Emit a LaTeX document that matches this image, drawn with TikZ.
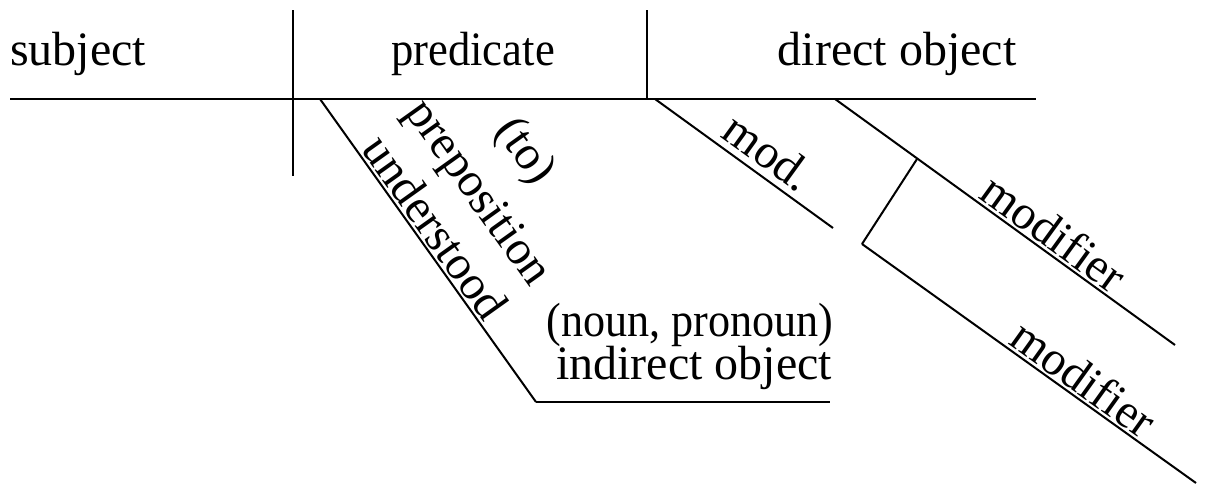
\documentclass[tikz,border=0pt]{standalone}
\usepackage{fontspec}
\setmainfont{Liberation Serif}
\begin{document}
\begin{tikzpicture}[x=1pt,y=-1pt,
  thick line/.style={line width=2.6pt},
  thin line/.style={line width=2pt},
  lbl/.style={font=\fontsize{48}{54}\selectfont, inner sep=0pt},
  onl/.style={lbl, sloped, above, inner sep=2pt}]
\useasboundingbox (0,0) rectangle (1209,483);
% coordinates
\coordinate (mainL) at (10,99);
\coordinate (mainR) at (1036,99);
\coordinate (v1t) at (293,10);
\coordinate (v1b) at (293,176);
\coordinate (v2t) at (647,10);
\coordinate (v2b) at (647,99);
\coordinate (uTop) at (320,99);
\coordinate (uBot) at (536,402);
\coordinate (ioR) at (830,402);
\coordinate (modTop) at (655,99);
\coordinate (modBot) at (833,228);
\coordinate (m1Top) at (835,99);
\coordinate (m1Bot) at (1175,345);
\coordinate (jn) at (917,159);
\coordinate (m2Top) at (862,244);
\coordinate (m2Bot) at (1196,483);
% texts
\node[lbl, anchor=base west] (subj) at (10,65) {subject};
\node[lbl, anchor=base, xscale=0.93] (pred) at (473,65) {predicate};
\node[lbl, anchor=base] (dobj) at (897,65) {direct object};
\node[lbl, anchor=base, xscale=0.92] (noun) at (690,336) {(noun, pronoun)};
\node[lbl, anchor=base] (iobj) at (694,379) {indirect object};
\node[lbl, rotate=-54.5] (to) at (524,152) {(to)};
\node[lbl, rotate=-54.5] (prep) at (476,194) {preposition};
% lines
\draw[thick line] (mainL) -- (mainR);
\draw[thin line] (v1t) -- (v1b);
\draw[thin line] (v2t) -- (v2b);
\draw[thin line] (uTop) -- node[onl, pos=0.46] (und) {understood} (uBot);
\draw[thick line] (uBot) -- (ioR);
\draw[thin line] (modTop) -- node[onl, pos=0.56, inner sep=6pt] (mod) {mod.} (modBot);
\draw[thin line] (m1Top) -- node[onl, pos=0.61] (mf1) {modifier} (m1Bot);
\draw[thin line] (jn) -- (m2Top);
\draw[thin line] (m2Top) -- node[onl, pos=0.63] (mf2) {modifier} (m2Bot);
\end{tikzpicture}
\end{document}
